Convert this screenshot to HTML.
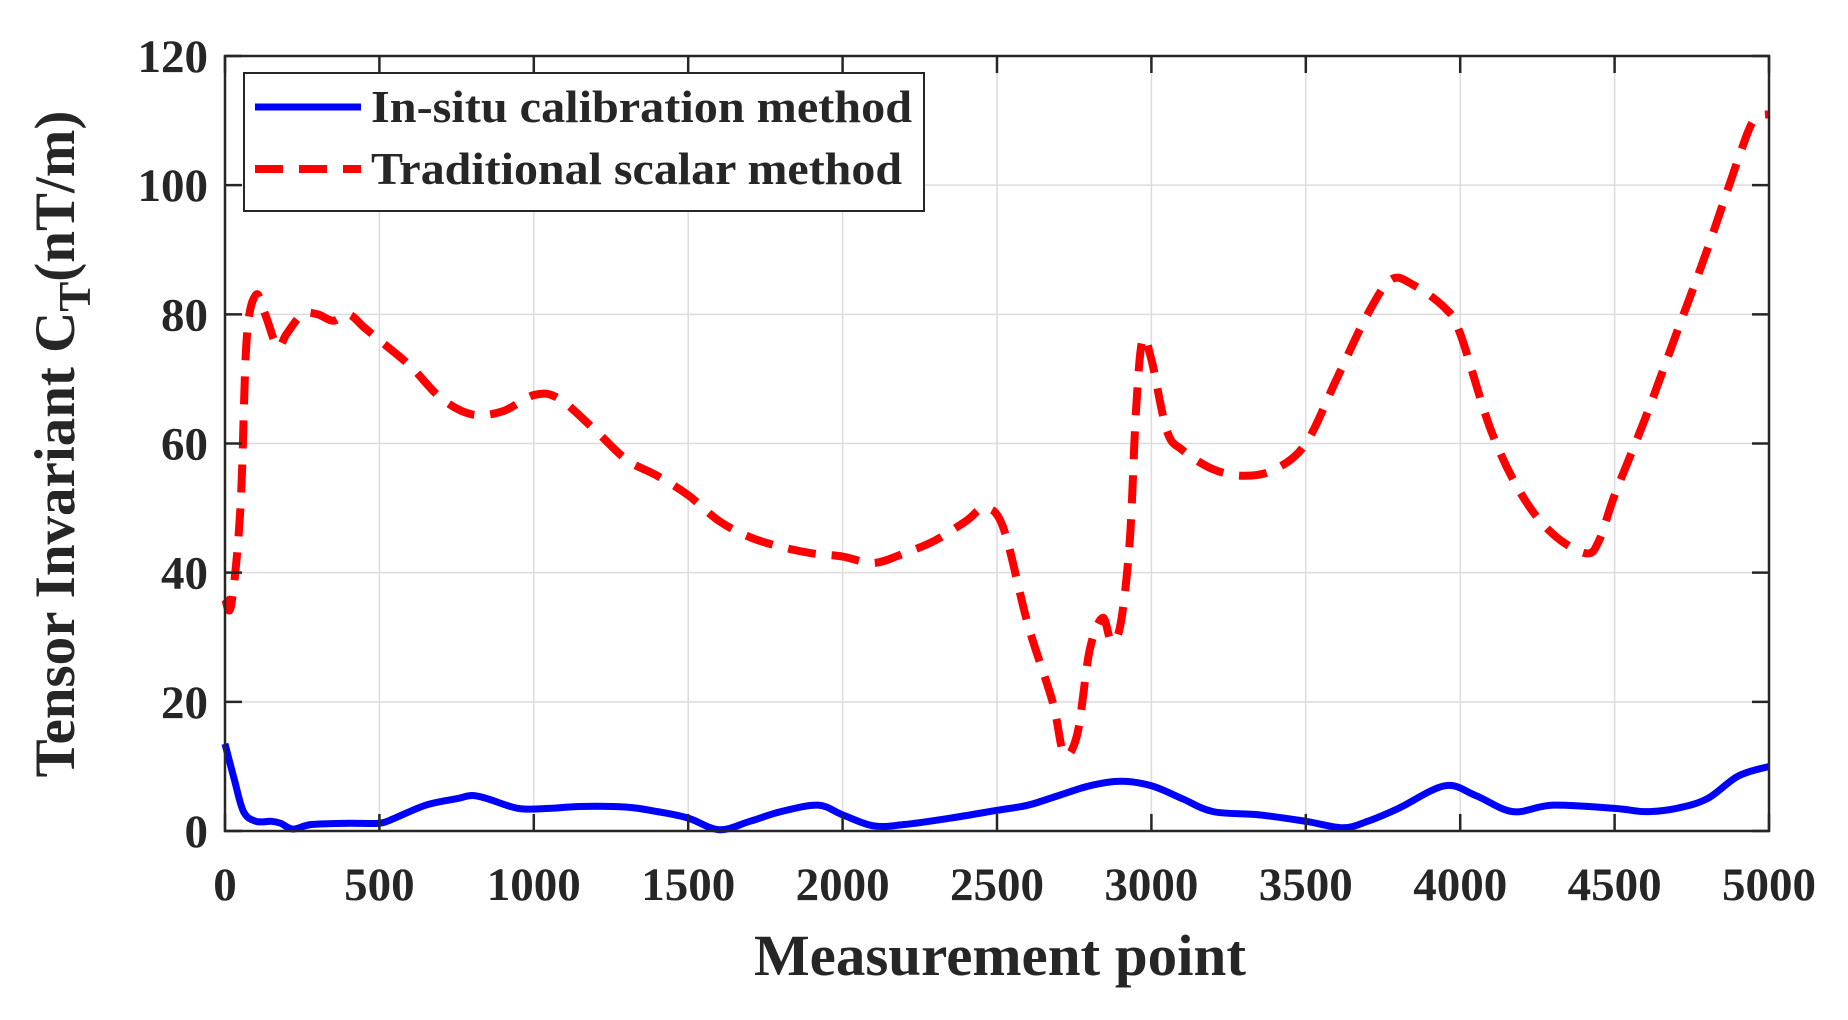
<!DOCTYPE html>
<html><head><meta charset="utf-8"><style>
html,body{margin:0;padding:0;background:#fff;}
svg text{font-family:"Liberation Serif",serif;font-weight:bold;fill:#262626;}
</style></head><body>
<svg id="chart" width="1848" height="1015" xmlns="http://www.w3.org/2000/svg">
<g id="grid"></g>
<g id="series"></g>
<g id="axes"></g>
<text x="1000" y="975" font-size="58" text-anchor="middle" textLength="492" lengthAdjust="spacingAndGlyphs">Measurement point</text>
<text transform="translate(74,444) rotate(-90)" font-size="57" text-anchor="middle">Tensor Invariant C<tspan font-size="45" dy="16">T</tspan><tspan dy="-16">(nT/m)</tspan></text>
<g>
<rect x="244" y="73" width="680" height="138" fill="#fff" stroke="#262626" stroke-width="2"/>
<line x1="255" y1="107" x2="361" y2="107" stroke="#0000ff" stroke-width="7"/>
<text x="371" y="122" font-size="46" textLength="541" lengthAdjust="spacingAndGlyphs">In-situ calibration method</text>
<line x1="255" y1="169" x2="361" y2="169" stroke="#ff0000" stroke-width="8" stroke-dasharray="28,16"/>
<text x="371" y="184" font-size="46" textLength="531" lengthAdjust="spacingAndGlyphs">Traditional scalar method</text>
</g>
</svg>
<script>
const xTicks=[0,500,1000,1500,2000,2500,3000,3500,4000,4500,5000];
const yTicks=[0,20,40,60,80,100,120];
const redX=[0,20,50,70,100,130,170,200,250,300,350,400,450,500,600,700,800,900,1000,1080,1200,1300,1400,1500,1600,1700,1800,1900,2000,2100,2200,2300,2400,2460,2520,2600,2680,2717,2760,2800,2842,2870,2900,2930,2950,2971,3000,3050,3100,3200,3300,3400,3500,3600,3700,3777,3850,3950,4000,4100,4200,4300,4407,4450,4500,4600,4700,4800,4900,4950,5000];
const redY=[36,35,50,76,83,80,75,77,80,80,79,80,78,76,72,67,64.5,65,67.5,67,62,57.5,55,52,48,45.5,44,43,42.5,41.5,43,45,48,50,47,32,20,12,15,28,33,29.4,32,45,65,76,73,62,59,56,55,56,60,70,80,85.4,84.5,81,77,62,52,46,43,45,52,64,77,90,104,110,111];
const blueX=[0,30,60,100,150,180,220,280,400,500,550,650,750,800,850,950,1050,1150,1300,1400,1500,1600,1700,1800,1920,2000,2100,2200,2350,2500,2600,2700,2800,2900,3000,3100,3200,3350,3500,3620,3700,3800,3950,4050,4170,4300,4500,4600,4700,4800,4900,5000];
const blueY=[13.5,8,3,1.5,1.5,1.2,0.3,1,1.2,1.2,2,4,5,5.5,5,3.5,3.5,3.8,3.7,3,2,0.2,1.5,3,4,2.5,0.8,1,2,3.2,4,5.5,7,7.7,7,5,3,2.5,1.5,0.5,1.5,3.5,7,5.5,3,4,3.5,3,3.5,5,8.5,10];
const L=225,R=1769,T=56,B=831;
const sx=v=>L+(v-0)/5000*(R-L);
const sy=v=>B-(v-0)/120*(B-T);
const NS='http://www.w3.org/2000/svg';
function mk(tag,attrs,parent){const e=document.createElementNS(NS,tag);for(const k in attrs)e.setAttribute(k,attrs[k]);parent.appendChild(e);return e;}
const grid=document.getElementById('grid'),axes=document.getElementById('axes'),series=document.getElementById('series');
xTicks.forEach(t=>{
 const g=mk('line',{x1:sx(t),x2:sx(t),y1:T,y2:B,stroke:'#dcdcdc','stroke-width':1.5},grid);
 
 
 const a=mk('line',{x1:sx(t),x2:sx(t),y1:B,y2:B-17,stroke:'#262626','stroke-width':2.5},axes);
 
 
 const b=mk('line',{x1:sx(t),x2:sx(t),y1:T,y2:T+17,stroke:'#262626','stroke-width':2.5},axes);
 
 
 const tx=mk('text',{x:sx(t),y:900,'font-size':47,'text-anchor':'middle'},axes);
 tx.textContent=t;
 
 
});
yTicks.forEach(t=>{
 const g=mk('line',{x1:L,x2:R,y1:sy(t),y2:sy(t),stroke:'#dcdcdc','stroke-width':1.5},grid);
 
 
 const a=mk('line',{x1:L,x2:L+17,y1:sy(t),y2:sy(t),stroke:'#262626','stroke-width':2.5},axes);
 
 
 const b=mk('line',{x1:R,x2:R-17,y1:sy(t),y2:sy(t),stroke:'#262626','stroke-width':2.5},axes);
 
 
 const tx=mk('text',{x:208,y:sy(t)+16,'font-size':47,'text-anchor':'end'},axes);
 tx.textContent=t;
 
 
});
const box=mk('rect',{x:L,y:T,width:R-L,height:B-T,fill:'none',stroke:'#262626','stroke-width':2.5},axes);


function path(xs,ys){
 const p=xs.map((x,i)=>[sx(x),sy(ys[i])]);
 let d='M'+p[0][0]+','+p[0][1];
 for(let i=0;i<p.length-1;i++){
  const p0=p[Math.max(0,i-1)],p1=p[i],p2=p[i+1],p3=p[Math.min(p.length-1,i+2)];
  const c1=[p1[0]+(p2[0]-p0[0])/6,p1[1]+(p2[1]-p0[1])/6];
  const c2=[p2[0]-(p3[0]-p1[0])/6,p2[1]-(p3[1]-p1[1])/6];
  d+=' C'+c1+' '+c2+' '+p2;
 }
 return d;
}
const red=mk('path',{d:path(redX,redY),fill:'none',stroke:'#ff0000','stroke-width':8,'stroke-dasharray':'28,16'},series);


const blue=mk('path',{d:path(blueX,blueY),fill:'none',stroke:'#0000ff','stroke-width':7},series);


</script>
</body></html>
